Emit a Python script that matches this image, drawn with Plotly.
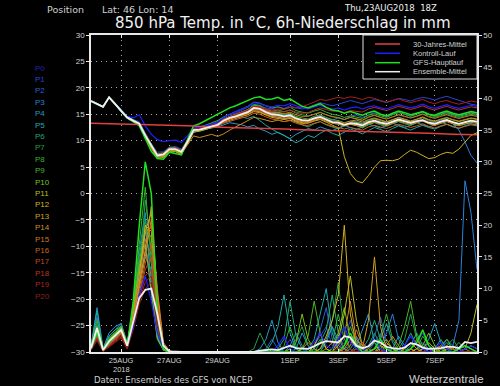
import pandas as pd
import plotly.graph_objects as go

times = pd.date_range("2018-08-23 18:00", periods=65, freq="6h")
clim_times = pd.date_range("2018-08-23 18:00", periods=17, freq="24h")

member_names = ["P%d" % k for k in range(21)]
member_colors = ["#2020b0", "#2a46d0", "#2a62d0", "#2a82d8", "#2298c8", "#20a8a8",
                 "#20a878", "#20a048", "#34b034", "#48b824", "#78c018", "#b8bc20",
                 "#d0b020", "#d0a020", "#d08c20", "#d07420", "#c86020", "#c04a20",
                 "#b83420", "#a82020", "#882018"]

clim_temp = [13.3, 13.2, 13.0, 12.9, 12.8, 12.6, 12.5, 12.3, 12.2, 12.0, 11.9, 11.8, 11.6, 11.5, 11.4, 11.2, 11.1]

mean_temp = [17.5,17.0,16.4,18.2,17.0, 15.6,14.4,13.8,13.2,11.0, 9.0,7.2,7.4,8.4,8.4,
             7.9,9.8,12.0,12.1,12.4, 12.8,13.0,13.8,14.3,14.6, 15.0,15.4,16.2,16.0,15.4,
             15.0,14.9,14.6,14.8,14.2, 13.9,13.8,14.2,14.5,14.0, 13.5,13.4,13.0,13.3,13.2,
             12.9,13.5,13.8,13.4,13.2, 13.6,14.0,13.7,13.4,13.7, 13.9,13.4,13.2,13.6,13.9,
             13.5,13.2,13.5,13.8,13.6]
gfs_temp = [17.5,17.0,16.4,18.2,17.0, 15.5,14.3,13.6,12.8,10.4, 8.0,6.6,6.5,7.8,7.6,
            7.3,10.2,12.8,13.2,13.8, 14.4,14.9,15.6,16.2,16.6, 17.1,17.5,18.1,18.3,17.8,
            17.9,18.2,17.6,17.9,17.2, 16.5,16.2,16.6,17.0,16.3, 15.8,15.6,15.2,15.5,15.1,
            14.8,15.3,15.6,15.0,14.7, 15.2,15.6,15.3,14.9,15.2, 15.5,15.0,14.8,15.3,15.6,
            15.2,14.9,15.2,15.5,15.3]

temp_p0 = [17.5,17.0,16.4,18.2,17.0, 15.7,14.6,14.3,14.9,12.8, 11.2,10.2,9.8,10.0,10.1,
           9.7,10.9,12.4,12.5,12.8, 13.2,13.5,14.4,15.0,15.5, 16.0,16.4,17.2,17.0,16.6,
           16.4,16.7,16.6,17.0,16.6, 16.2,16.0,16.4,16.7,16.2, 16.0,16.2,15.8,16.2,16.4,
           16.0,16.4,16.6,16.2,16.0, 16.4,16.8,16.5,16.2,16.5, 16.9,16.4,16.1,16.5,16.8,
           16.4,16.1,16.4,16.7,16.5]
temp_p1 = [17.6,17.1,16.5,18.2,17.1, 15.8,14.6,14.0,13.6,11.5, 9.4,7.8,7.9,8.8,8.9,
           8.4,10.2,12.3,12.6,12.9, 13.3,13.6,14.3,14.9,15.2, 15.8,16.3,16.9,16.6,16.2,
           16.0,16.4,16.1,16.6,16.2, 16.0,16.3,16.8,17.2,16.9, 16.6,16.9,17.2,17.6,17.3,
           17.0,17.4,17.8,17.5,17.2, 17.6,18.0,17.8,17.5,17.9, 18.2,18.0,17.7,18.1,18.4,
           18.0,17.6,17.2,16.9,16.7]
temp_p2 = [17.4,16.9,16.3,18.1,16.9, 15.4,14.2,13.5,12.9,10.4, 8.6,6.9,7.0,8.0,8.1,
           7.6,9.4,11.6,11.9,12.1, 12.6,12.9,13.4,14.0,14.4, 14.8,15.2,15.9,15.6,15.1,
           14.6,14.4,14.0,14.3,13.9, 13.6,13.8,14.4,14.8,14.2, 13.9,14.3,14.0,14.6,14.9,
           14.4,14.9,15.3,15.0,14.6, 15.0,15.4,15.0,14.7,15.2, 15.5,15.0,14.6,15.1,15.4,
           15.0,14.7,15.1,15.4,15.2]
temp_p3 = [17.5,17.0,16.4,18.3,17.0, 15.6,14.5,13.9,13.0,10.8, 8.8,7.0,7.2,8.2,8.3,
           7.8,9.7,11.8,12.0,12.3, 12.9,13.2,14.0,14.5,14.8, 15.2,15.6,16.3,16.1,15.5,
           15.2,15.0,14.8,15.0,14.4, 14.0,13.9,14.3,14.7,14.2, 13.8,13.6,13.1,13.4,13.6,
           13.3,13.9,14.2,13.8,13.5, 13.9,14.4,14.0,13.6,14.0, 14.3,13.7,13.4,13.9,14.1,
           13.2,12.0,9.8,7.2,5.8]
temp_p4 = [17.5,17.0,16.4,18.2,17.0, 15.5,14.3,13.6,13.1,10.9, 8.9,7.1,7.3,8.3,8.2,
           7.7,9.6,11.9,12.0,12.2, 12.5,12.6,13.0,13.4,13.2, 13.0,12.6,12.9,12.2,11.8,
           11.2,11.6,11.0,10.4,11.2, 11.8,12.3,12.0,12.6,12.2, 11.9,12.4,12.9,12.5,12.1,
           12.6,13.1,12.8,12.4,12.9, 13.3,12.9,12.5,12.9,13.4, 13.0,12.6,13.0,13.5,13.1,
           12.7,13.1,13.5,13.2,13.0]
temp_p5 = [17.5,17.0,16.5,18.2,17.0, 15.6,14.4,13.8,13.2,11.1, 9.1,7.3,7.5,8.5,8.5,
           8.0,9.9,12.1,12.2,12.5, 12.9,13.1,13.7,14.0,14.3, 14.5,14.2,14.6,13.8,12.9,
           12.2,11.5,11.0,10.3,9.6, 10.2,11.0,10.6,11.4,12.0, 11.4,11.0,11.6,12.2,11.8,
           11.3,11.9,12.5,12.1,11.7, 12.3,12.8,12.4,12.0,12.5, 12.9,12.5,12.2,12.7,13.1,
           12.6,12.3,12.8,13.2,12.9]
temp_p6 = [17.6,17.1,16.4,18.2,17.1, 15.7,14.5,13.9,13.3,11.2, 9.2,7.4,7.6,8.6,8.6,
           8.1,10.0,12.2,12.3,12.6, 13.0,13.3,14.0,14.6,15.0, 15.5,15.9,16.6,16.4,15.8,
           15.4,15.2,14.8,14.4,13.6, 13.0,12.6,13.2,13.6,13.0, 12.6,12.2,12.8,13.3,12.9,
           12.4,13.0,13.4,13.0,12.7, 13.2,13.6,13.2,12.9,13.4, 13.8,13.3,12.9,13.3,13.7,
           13.2,12.8,13.1,13.5,13.3]
temp_p7 = [17.4,16.9,16.3,18.1,16.9, 15.5,14.3,13.7,13.0,10.6, 8.5,6.8,6.9,7.9,8.0,
           7.5,9.5,11.7,11.8,12.2, 12.6,12.9,13.7,14.2,14.7, 15.3,15.8,16.8,16.7,16.0,
           15.6,15.8,15.5,15.8,15.2, 14.9,14.7,15.0,15.4,14.9, 14.6,14.3,14.0,14.4,14.1,
           13.8,14.4,14.8,14.4,14.1, 14.5,14.9,14.6,14.3,14.7, 15.1,14.6,14.4,14.8,15.1,
           14.7,14.4,14.7,15.0,14.8]
temp_p8 = [17.5,17.0,16.4,18.2,17.0, 15.6,14.4,13.8,13.2,10.9, 8.8,7.0,7.1,8.1,8.2,
           7.8,9.8,12.2,12.5,12.9, 13.4,13.8,14.5,15.0,15.5, 16.0,16.5,17.3,17.1,16.6,
           16.2,16.4,16.0,16.3,15.7, 15.4,15.2,15.6,15.9,15.4, 15.0,14.8,14.4,14.7,14.5,
           14.2,14.8,15.1,14.7,14.4, 14.9,15.3,15.0,14.6,15.0, 15.4,14.9,14.6,15.0,15.3,
           14.9,14.6,14.9,15.2,15.0]
temp_p9 = [17.5,17.0,16.4,18.2,17.0, 15.7,14.5,13.9,13.3,11.3, 9.3,7.5,7.7,8.7,8.7,
           8.2,10.1,12.3,12.4,12.7, 13.1,13.3,14.1,14.6,15.0, 15.4,15.9,16.7,16.5,15.9,
           15.5,15.3,15.0,15.2,14.6, 14.3,14.1,14.6,14.9,14.4, 14.0,13.8,13.4,13.7,13.5,
           13.2,13.8,14.1,13.7,13.5, 13.9,14.3,14.0,13.7,14.0, 14.4,13.9,13.6,14.0,14.3,
           13.9,13.6,13.9,14.2,14.0]
temp_p10 = [17.5,17.0,16.4,18.2,17.0, 15.6,14.4,13.8,13.1,10.7, 8.7,7.0,7.1,8.1,8.2,
            7.7,9.6,11.9,12.0,12.3, 12.7,12.9,13.6,14.0,14.4, 14.8,15.1,15.8,15.5,15.0,
            14.7,14.5,14.3,14.5,14.0, 13.7,13.6,14.0,14.3,13.8, 13.4,13.2,12.9,13.1,13.0,
            12.8,13.3,13.6,13.3,13.0, 13.4,13.8,13.5,13.2,13.5, 13.8,13.3,13.0,13.4,13.7,
            13.3,13.0,13.3,13.6,13.4]
temp_p11 = [17.5,17.0,16.4,18.2,17.0, 15.5,14.3,13.7,13.0,10.6, 8.5,6.6,6.8,7.8,7.9,
            7.4,9.4,11.6,11.8,12.1, 12.5,12.8,13.5,14.0,14.3, 14.7,15.0,15.7,15.5,15.0,
            14.6,14.5,14.2,14.4,13.9, 13.6,13.5,13.9,14.2,13.7, 13.3,13.1,12.8,13.1,12.9,
            12.6,13.2,13.5,13.2,12.9, 13.3,13.7,13.4,13.1,13.4, 13.7,13.2,12.9,13.3,13.6,
            13.2,12.9,13.2,13.5,13.3]
temp_p12 = [17.5,17.0,16.4,18.2,17.0, 15.6,14.4,13.8,13.2,10.9, 8.8,7.1,7.3,8.3,8.3,
            7.8,9.7,11.9,12.1,12.3, 12.7,12.9,13.5,13.9,14.2, 14.6,14.9,15.5,15.3,14.8,
            14.4,14.2,14.0,14.2,13.7, 13.4,13.3,13.7,14.0,13.5, 13.0,12.4,7.0,3.8,2.4,
            2.0,3.4,5.0,6.2,6.3, 6.2,6.5,7.4,8.2,7.8, 7.2,6.6,6.8,7.4,7.8,
            7.6,8.4,9.8,11.0,11.5]
temp_p13 = [17.5,17.0,16.4,18.2,17.0, 15.6,14.4,13.8,13.3,11.0, 9.0,7.2,7.4,8.4,8.4,
            7.9,9.8,12.0,12.2,12.4, 12.8,13.0,13.6,14.1,14.5, 14.9,15.3,16.0,15.8,15.3,
            14.9,14.8,14.5,14.7,14.1, 13.8,13.7,14.1,14.4,13.9, 13.5,13.3,13.0,13.3,13.1,
            12.8,13.4,13.7,13.4,13.1, 13.5,13.9,13.6,13.3,13.6, 13.9,13.4,13.1,13.5,13.8,
            13.4,13.1,13.4,13.7,13.5]
temp_p14 = [17.5,17.0,16.4,18.2,17.0, 15.6,14.4,13.8,13.1,10.8, 8.7,6.9,7.0,8.0,8.0,
            7.5,9.2,10.9,10.6,10.9, 11.2,10.8,11.3,12.0,12.6, 13.2,13.8,14.4,14.2,13.9,
            13.6,13.9,13.6,13.9,13.5, 13.2,13.4,13.9,14.2,13.8, 13.5,13.6,13.3,13.7,13.9,
            13.5,14.0,14.3,13.9,13.6, 14.0,14.4,14.1,13.7,14.1, 14.5,14.0,13.7,14.1,14.4,
            14.0,13.7,14.0,14.3,14.1]
temp_p15 = [17.5,17.0,16.4,18.2,17.0, 15.6,14.4,13.8,13.2,11.0, 8.9,7.2,7.3,8.3,8.4,
            7.9,9.9,12.1,12.3,12.6, 13.0,13.3,14.0,14.6,14.9, 15.3,15.7,16.4,16.2,15.7,
            15.3,15.4,15.1,15.4,14.9, 14.6,14.6,15.0,15.3,14.9, 14.5,14.4,14.0,14.4,14.2,
            13.9,14.5,14.8,14.4,14.1, 14.5,14.9,14.6,14.3,14.6, 15.0,14.5,14.2,14.6,14.9,
            14.5,14.2,14.5,14.8,14.6]
temp_p16 = [17.5,17.0,16.4,18.2,17.0, 15.6,14.4,13.8,13.2,11.1, 9.1,7.4,7.5,8.5,8.5,
            8.0,9.9,12.0,12.1,12.3, 12.6,12.8,13.3,13.7,14.0, 14.3,14.6,15.2,15.0,14.5,
            14.1,13.9,13.6,13.8,13.3, 13.0,12.9,13.3,13.6,13.1, 12.7,12.5,12.2,12.5,12.3,
            12.0,12.6,12.9,12.6,12.3, 12.7,13.1,12.8,12.5,12.8, 13.2,12.7,12.4,12.8,13.1,
            12.7,12.4,12.7,13.0,12.8]
temp_p17 = [17.5,17.0,16.4,18.2,17.0, 15.6,14.4,13.8,13.2,11.0, 9.0,7.2,7.4,8.4,8.4,
            7.9,9.8,11.9,12.0,12.3, 12.7,12.9,13.5,14.0,14.3, 14.7,15.1,15.8,15.6,15.1,
            14.7,14.6,14.3,14.5,14.0, 13.7,13.6,14.0,14.3,13.8, 13.4,13.2,12.9,13.2,13.0,
            12.7,13.3,13.6,13.3,13.0, 13.4,13.8,13.5,13.2,13.5, 13.8,13.3,13.0,13.4,13.7,
            13.3,13.0,13.3,13.6,13.4]
temp_p18 = [17.5,17.0,16.4,18.2,17.0, 15.6,14.4,13.9,13.3,11.2, 9.2,7.4,7.6,8.6,8.6,
            8.1,10.0,12.2,12.4,12.7, 13.1,13.4,14.1,14.6,15.0, 15.4,15.8,16.5,16.3,15.8,
            15.5,15.6,15.4,15.8,15.4, 15.2,15.3,15.8,16.2,15.9, 15.6,15.6,15.3,15.7,15.6,
            15.4,16.0,16.3,16.0,15.7, 16.1,16.5,16.2,15.9,16.2, 16.6,16.1,15.8,16.2,16.5,
            16.1,15.8,16.1,16.4,16.2]
temp_p19 = [17.5,17.0,16.4,18.2,17.0, 15.6,14.4,13.8,13.2,11.0, 9.0,7.2,7.4,8.4,8.4,
            7.9,9.8,12.0,12.2,12.5, 12.9,13.2,13.9,14.5,14.9, 15.3,15.8,16.5,16.4,16.0,
            15.8,16.0,15.9,16.3,16.2, 16.4,16.8,17.3,17.8,17.6, 17.9,18.2,18.0,18.3,18.1,
            17.8,18.2,18.0,17.6,17.3, 17.6,17.9,17.5,17.2,17.5, 17.8,17.3,17.0,17.4,17.6,
            17.2,16.9,17.2,17.5,17.3]
temp_p20 = [17.5,17.0,16.4,18.2,17.0, 15.6,14.4,13.8,13.2,11.0, 9.1,7.3,7.4,8.4,8.5,
            8.0,9.9,12.1,12.3,12.5, 12.9,13.1,13.8,14.3,14.6, 15.0,15.4,16.1,15.9,15.4,
            15.0,14.9,14.6,14.8,14.3, 14.0,13.9,14.3,14.6,14.1, 13.7,13.5,13.2,13.5,13.3,
            13.0,13.6,13.9,13.6,13.3, 13.7,14.1,13.8,13.5,13.8, 14.1,13.6,13.3,13.7,14.0,
            13.6,13.3,13.6,13.9,13.7]

mean_prec = [0.6,3.8,0.3,1.7,2.6, 3.5,1.0,5.0,8.5,9.8, 10.0,6.0,1.0,0.1,0,
             0,0,0,0,0, 0,0,0,0,0, 0,0,0,0.2,0.3,
             0.4,0.3,0.7,1.0,0.6, 0.5,0.5,0.9,1.4,1.7, 1.6,1.5,2.5,2.3,1.0,
             0.6,0.9,1.8,1.5,0.8, 0.6,0.5,0.7,1.4,1.2, 0.7,0.5,0.5,0.6,0.8,
             0.8,0.6,1.6,1.4,1.6]
gfs_prec = [0.5,3.0,0.3,1.5,2.5, 3.5,1.0,8.0,20.0,30.0, 25.0,6.0,0.5,0,0,
            0,0,0,0,0, 0,0,0,0,0, 0,0,0,0,0,
            0,0,0,0,0, 0,0,0,0,0, 0,0,1.0,3.0,1.0,
            0,0,0.5,2.0,0.5, 0,0,0,0.5,1.5, 3.5,1.0,0,0,0,
            0,0.5,1.0,0.5,0]

prec_p0 = [0.5,3.0,0.4,1.5,2.5, 3.5,1.0,4.0,9.0,12.0, 8.0,3.0,0.5,0,0,
           0,0,0,0,0, 0,0,0,0,0, 0,0,0,0,0,
           0,1.0,2.5,0.5,0, 0,0.5,1.5,3.0,1.0, 0.5,2.0,4.0,1.5,0.5,
           0,1.0,2.0,0.5,0, 0,0,1.0,2.5,1.0, 0.5,0,0.5,1.5,0.5,
           0,0,0.5,1.0,0.5]
prec_p1 = [0.8,4.5,0.3,2.0,3.0, 4.0,1.5,6.0,14.0,18.0, 9.0,2.0,0.3,0,0,
           0,0,0,0,0, 0,0,0,0,0, 0,0,0,0,0,
           0,0,0.5,2.0,0.5, 0,0,1.0,2.5,4.0, 1.0,0.5,2.0,5.0,1.5,
           0.5,0,1.5,3.0,1.0, 0,0,0,0.5,1.5, 3.0,1.0,0,0,0.5,
           1.0,0.5,0,0,0]
prec_p2 = [0.4,2.5,0.2,1.2,2.0, 3.0,0.8,5.0,11.0,16.0, 12.0,4.0,0.6,0,0,
           0,0,0,0,0, 0,0,0,0,0, 0,0,0,0,0.5,
           2.0,0.5,0,0,0, 0,0,0.5,3.5,7.0, 2.0,0.5,1.0,3.0,0.5,
           0,0.5,2.5,5.5,1.5, 0.5,0,0,0,0.5, 1.5,0.5,0,0.5,2.0,
           1.0,0,0,0,0]
prec_p3 = [1.0,5.5,0.5,2.5,3.5, 4.5,1.2,7.0,16.0,22.0, 10.0,2.5,0.4,0,0,
           0,0,0,0,0, 0,0,0,0,0, 0,0,0,0,0,
           0,0,0,1.0,3.0, 1.0,0,0,0.5,2.0, 4.0,1.0,0.5,1.0,2.5,
           0.5,0,0,1.0,3.0, 6.0,2.0,0.5,0,0, 0,0.5,1.0,0.5,0,
           1.0,5.0,27.0,22.0,13.0]
prec_p4 = [0.9,7.0,0.6,3.0,4.0, 4.5,1.5,5.5,12.0,15.0, 13.0,5.0,0.8,0,0,
           0,0,0,0,0, 0,0,0,0,0, 0,0,0,0.5,2.0,
           5.0,1.5,0,0,0.5, 3.0,1.0,0,0,1.5, 4.0,2.0,0.5,0,1.0,
           3.5,6.0,1.5,0,0, 0.5,2.5,1.0,0,0, 0.5,2.0,4.5,1.5,0,
           0,0.5,1.0,0.5,0]
prec_p5 = [0.7,6.5,0.4,2.5,3.5, 4.0,1.2,6.5,13.0,19.0, 14.0,3.5,0.5,0,0,
           0,0,0,0,0, 0,0,0,0,0, 0,0,0,0,0,
           1.5,4.0,9.0,3.0,0.5, 0,0.5,2.0,6.0,10.0, 3.0,0.5,0,0.5,2.0,
           1.0,0,0.5,2.0,4.5, 1.5,0,0,1.0,3.0, 1.0,0,0,0.5,1.5,
           0.5,0,0,0,0]
prec_p6 = [0.6,4.0,0.3,1.8,2.8, 3.8,1.0,6.0,15.0,21.0, 11.0,2.0,0.3,0,0,
           0,0,0,0,0, 0,0,0,0,0, 0,0,0,0,0,
           0,0.5,2.0,8.0,2.5, 0.5,0,0,1.5,3.5, 9.0,3.0,0.5,0,0,
           0.5,2.0,5.0,2.0,0.5, 0,0,1.0,3.0,1.0, 0,0,0.5,2.0,0.5,
           0,0,0.5,1.0,0.5]
prec_p7 = [0.5,3.5,0.3,1.5,2.5, 3.5,1.0,5.5,12.0,24.0, 16.0,4.0,0.5,0,0,
           0,0,0,0,0, 0,0,0,0,0, 0,0,0.5,3.0,1.0,
           0,0,0,0.5,2.0, 4.0,1.0,0,0,2.0, 5.0,11.0,3.0,0.5,0,
           0,1.0,3.0,1.0,0, 0,0.5,2.0,6.0,2.0, 0.5,0,0,0,1.0,
           2.0,0.5,0,0,0]
prec_p8 = [0.8,5.0,0.5,2.2,3.2, 4.2,1.4,7.0,17.0,26.0, 14.0,3.0,0.4,0,0,
           0,0,0,0,0, 0,0,0,0,0, 0,0,0,0,0,
           0,0,1.0,4.0,1.0, 0,0,0.5,2.0,0.5, 1.5,6.0,2.0,0.5,0,
           0,0,0.5,2.5,6.0, 2.0,0.5,0,0,0.5, 2.5,1.0,0,0,0,
           0.5,1.5,0.5,0,0]
prec_p9 = [0.6,4.2,0.4,2.0,3.0, 4.0,1.1,6.2,14.0,20.0, 18.0,6.0,1.0,0,0,
           0,0,0,0,0, 0,0,0,0,0, 0,0,0,0,0,
           0,0,0,0,0, 0.5,2.5,8.0,3.0,0.5, 0,0,1.0,4.0,1.5,
           0,0.5,1.5,0.5,0, 0,1.0,4.0,8.0,2.5, 0.5,0,0,1.0,2.0,
           0.5,0,0,0,0]
prec_p10 = [0.7,3.8,0.3,1.9,2.9, 3.9,1.3,6.8,13.5,17.0, 9.5,2.2,0.3,0,0,
            0,0,0,0,0, 0,0,0,0,0, 0,0,0,0,0,
            0,0,0,0.5,1.5, 6.0,2.0,0.5,0,0, 0.5,3.0,7.0,2.0,0.5,
            0,0,0,1.0,2.0, 0.5,0,0,0,0.5, 1.0,3.0,1.0,0,0,
            0,0,0.5,1.0,0.5]
prec_p11 = [0.5,3.2,0.2,1.6,2.4, 3.3,0.9,5.2,11.0,19.0, 22.0,8.0,1.0,0,0,
            0,0,0,0,0, 0,0,0,0,0, 0,0,0,0,0,
            0,0,0,0,0, 0,0,1.0,3.0,0.5, 0,2.0,6.0,12.0,5.0,
            1.0,0,0,0.5,1.5, 0.5,0,0,0,0, 0.5,1.5,0.5,0,0,
            0,0,0.5,3.0,7.5]
prec_p12 = [0.6,3.6,0.3,1.7,2.7, 3.7,1.1,5.8,12.0,20.0, 19.0,7.0,0.8,0,0,
            0,0,0,0,0, 0,0,0,0,0, 0,0,0,0,0,
            0,0,0,0,0, 0,0,0,0.5,2.5, 5.0,9.0,20.0,6.0,1.0,
            0,0,0.5,1.0,0.5, 0,0,0,0.5,0, 0,0,0,0.5,1.0,
            0.5,0,0,0,0]
prec_p13 = [0.5,3.0,0.2,1.4,2.3, 3.2,0.9,5.0,10.5,16.0, 23.0,9.0,1.2,0,0,
            0,0,0,0,0, 0,0,0,0,0, 0,0,0,0,0,
            0,0,0,0,0, 0,0,0,0,0, 0,0,0.5,2.0,1.0,
            0.5,5.0,15.0,4.0,0.5, 0,0,0.5,1.5,0.5, 0,0,0,0,0.5,
            0.5,0,0,0,0]
prec_p14 = [0.4,2.8,0.2,1.3,2.2, 3.0,0.8,4.8,10.0,15.0, 21.0,10.0,1.5,0.2,0,
            0,0,0,0,0, 0,0,0,0,0, 0,0,0,0,0,
            0,0,0,0,0, 0.5,1.5,0.5,0,0, 0,1.0,2.5,8.0,2.0,
            0.5,0,0,0,1.0, 2.5,1.0,0,0,0, 0,0,0.5,1.0,0,
            0,0,0,0,0]
prec_p15 = [0.5,3.0,0.3,1.5,2.4, 3.4,1.0,5.4,11.5,17.5, 20.0,8.5,1.0,0,0,
            0,0,0,0,0, 0,0,0,0,0, 0,0,0,0,0,
            0,0,0,0,0, 0,0,0,0,0.5, 1.5,0.5,0,1.0,3.5,
            1.0,0,0,0,0, 0,0,0,0.5,2.0, 0.5,0,0,0,0,
            0,0,0,0,0]
prec_p16 = [0.4,2.6,0.2,1.2,2.1, 2.9,0.8,4.5,9.5,14.0, 17.0,7.5,1.0,0,0,
            0,0,0,0,0, 0,0,0,0,0, 0,0,0,0,0,
            0,0,0,0,0, 0,0,0,0,0, 0,0,0,0,0.5,
            1.5,0.5,0,0,0, 0,0,0,0,0, 0,0,0,0,0,
            0,0,0,0,0]
prec_p17 = [0.4,2.4,0.2,1.1,2.0, 2.8,0.7,4.2,9.0,13.0, 15.0,6.0,0.8,0,0,
            0,0,0,0,0, 0,0,0,0,0, 0,0,0,0,0,
            0,0,0,0,0, 0,0,0,0,0, 0,0,0,0,0,
            0,0,0,0,0, 0,0,0,0,0, 0,0,0,0.5,1.0,
            0.5,0,0,0,0]
prec_p18 = [0.3,2.2,0.1,1.0,1.8, 2.6,0.6,4.0,8.5,12.0, 13.0,5.0,0.6,0,0,
            0,0,0,0,0, 0,0,0,0,0, 0,0,0,0,0,
            0,0,0,0,0, 0,0,0,0,0, 0,0,0,0,0,
            0,0,0,0,0, 0,0,0,0,0, 0,0,0,0,0,
            0,0,0,0,0]
prec_p19 = [0.3,2.0,0.1,0.9,1.6, 2.4,0.5,3.8,8.0,11.0, 12.0,4.5,0.5,0,0,
            0,0,0,0,0, 0,0,0,0,0, 0,0,0,0,0,
            0,0,0,0,0, 0,0,0,0,0, 0,0,0,0,0,
            0,0,0,0,0, 0,0,0,0,0, 0,0,0,0,0,
            0,0,0,0,0]
prec_p20 = [0.3,1.8,0.1,0.8,1.5, 2.2,0.5,3.5,7.5,10.0, 11.0,4.0,0.5,0,0,
            0,0,0,0,0, 0,0,0,0,0, 0,0,0,0,0,
            0,0,0,0,0, 0,0,0,0,0, 0,0.5,1.5,0.5,0,
            0,0,0,0,0, 0,0,0,0,0, 0,0,0,0,0,
            0,0,0,0,0]

member_temp = [temp_p0, temp_p1, temp_p2, temp_p3, temp_p4, temp_p5, temp_p6, temp_p7,
               temp_p8, temp_p9, temp_p10, temp_p11, temp_p12, temp_p13, temp_p14,
               temp_p15, temp_p16, temp_p17, temp_p18, temp_p19, temp_p20]
member_prec = [prec_p0, prec_p1, prec_p2, prec_p3, prec_p4, prec_p5, prec_p6, prec_p7,
               prec_p8, prec_p9, prec_p10, prec_p11, prec_p12, prec_p13, prec_p14,
               prec_p15, prec_p16, prec_p17, prec_p18, prec_p19, prec_p20]

tick_dates = ["2018-08-25", "2018-08-27", "2018-08-29", "2018-09-01", "2018-09-03", "2018-09-05", "2018-09-07"]
tick_labels = ["25AUG", "27AUG", "29AUG", "1SEP", "3SEP", "5SEP", "7SEP"]
year_label = "2018"

legend_labels = ["30-Jahres-Mittel", "Kontroll-Lauf", "GFS-Hauptlauf", "Ensemble-Mittel"]
legend_colors = ["#e04040", "#2020ff", "#20e020", "#f0f0f0"]

TXT = "#d0d0d0"
FONT = "Liberation Sans"
DV = "DejaVu Sans"

fig = go.Figure()

# precipitation (right axis)
for k in range(1, 21):
    vals = member_prec[k]
    fig.add_trace(go.Scatter(x=times[:len(vals)], y=vals, yaxis="y2", mode="lines",
                             line=dict(color=member_colors[k], width=1), showlegend=False, hoverinfo="skip"))
# temperature members
for k in range(1, 21):
    vals = member_temp[k]
    fig.add_trace(go.Scatter(x=times[:len(vals)], y=vals, mode="lines",
                             line=dict(color=member_colors[k], width=1), showlegend=False, hoverinfo="skip"))
# control (P0)
fig.add_trace(go.Scatter(x=times[:len(prec_p0)], y=prec_p0, yaxis="y2", mode="lines",
                         line=dict(color=legend_colors[1], width=1.2), showlegend=False))
fig.add_trace(go.Scatter(x=times[:len(temp_p0)], y=temp_p0, mode="lines",
                         line=dict(color=legend_colors[1], width=1.2), showlegend=False))
# GFS main run
fig.add_trace(go.Scatter(x=times[:len(gfs_prec)], y=gfs_prec, yaxis="y2", mode="lines",
                         line=dict(color=legend_colors[2], width=1.5), showlegend=False))
fig.add_trace(go.Scatter(x=times[:len(gfs_temp)], y=gfs_temp, mode="lines",
                         line=dict(color=legend_colors[2], width=1.5), showlegend=False))
# climatology
fig.add_trace(go.Scatter(x=clim_times, y=clim_temp, mode="lines",
                         line=dict(color=legend_colors[0], width=1.5), showlegend=False))
# ensemble mean
fig.add_trace(go.Scatter(x=times[:len(mean_prec)], y=mean_prec, yaxis="y2", mode="lines",
                         line=dict(color=legend_colors[3], width=1.8), showlegend=False))
fig.add_trace(go.Scatter(x=times[:len(mean_temp)], y=mean_temp, mode="lines",
                         line=dict(color=legend_colors[3], width=1.8), showlegend=False))

L, R, T, B = 91, 477, 35, 352
W, H = 500, 386
pw, ph = R - L, B - T

def px(xp):
    return (xp - L) / pw

def py(yp):
    return (B - yp) / ph

ann = []
ann.append(dict(text="Position", x=px(45), y=py(9), xref="paper", yref="paper",
                xanchor="left", yanchor="middle", showarrow=False, font=dict(family=DV, size=9.5, color=TXT)))
ann.append(dict(text="Lat: 46 Lon: 14", x=px(100), y=py(9), xref="paper", yref="paper",
                xanchor="left", yanchor="middle", showarrow=False, font=dict(family=DV, size=9.5, color=TXT)))
ann.append(dict(text="850 hPa Temp. in °C, 6h-Niederschlag in mm", x=px(283), y=py(22.5), xref="paper", yref="paper",
                xanchor="center", yanchor="middle", showarrow=False, font=dict(family=DV, size=15, color="#f0f0f0")))
ann.append(dict(text="Thu,23AUG2018  18Z", x=px(342), y=py(8), xref="paper", yref="paper",
                xanchor="left", yanchor="middle", showarrow=False, font=dict(family=DV, size=8.5, color="#f0f0f0")))
ann.append(dict(text="Daten: Ensembles des GFS von NCEP", x=px(92), y=py(380), xref="paper", yref="paper",
                xanchor="left", yanchor="middle", showarrow=False, font=dict(family=DV, size=8.5, color=TXT)))
ann.append(dict(text="Wetterzentrale", x=px(486), y=py(379), xref="paper", yref="paper",
                xanchor="right", yanchor="middle", showarrow=False, font=dict(family=FONT, size=11.5, color=TXT)))
ann.append(dict(text=year_label, x=tick_dates[0], y=py(369), xref="x", yref="paper",
                xanchor="center", yanchor="middle", showarrow=False, font=dict(family=FONT, size=7.5, color=TXT)))
for k, name in enumerate(member_names):
    ann.append(dict(text=name, x=px(33), y=py(68 + k * 11.4), xref="paper", yref="paper",
                    xanchor="left", yanchor="middle", showarrow=False,
                    font=dict(family=FONT, size=8, color=member_colors[k])))

shapes = [dict(type="rect", xref="paper", yref="paper", x0=px(363), x1=1, y0=py(79), y1=1,
               line=dict(color="#e0e0e0", width=1), fillcolor="black", layer="above")]
rows = [44, 53.3, 62.7, 71.7]
for lab, col, r in zip(legend_labels, legend_colors, rows):
    shapes.append(dict(type="line", xref="paper", yref="paper", x0=px(375), x1=px(400), y0=py(r), y1=py(r),
                       line=dict(color=col, width=1.5), layer="above"))
    ann.append(dict(text=lab, x=px(411), y=py(r), xref="paper", yref="paper", xanchor="left", yanchor="middle",
                    showarrow=False, font=dict(family=FONT, size=7.5, color=TXT)))

axis_font = dict(family=FONT, size=8, color=TXT)
xaxis_font = dict(family=FONT, size=7.5, color=TXT)
GRID = "#a8a8a8"
fig.update_layout(
    width=W, height=H, margin=dict(l=L, r=W - R, t=T, b=H - B, pad=0, autoexpand=False),
    paper_bgcolor="black", plot_bgcolor="black", showlegend=False,
    xaxis=dict(type="date", range=[times[0], times[-1]], tickvals=tick_dates, ticktext=tick_labels,
               showgrid=True, gridcolor=GRID, griddash="1px,4px", gridwidth=1,
               showline=True, linecolor="#e8e8e8", linewidth=1.5, mirror="ticks",
               ticks="inside", ticklen=3, tickcolor="#e8e8e8", tickfont=xaxis_font, zeroline=False,
               automargin=False),
    yaxis=dict(range=[-30, 30], dtick=5, tick0=0, showgrid=True, gridcolor=GRID, griddash="1px,4px",
               gridwidth=1, showline=True, linecolor="#e8e8e8", linewidth=1.5, ticks="outside", ticklen=3,
               tickcolor="#e8e8e8", tickfont=axis_font, zeroline=False, automargin=False),
    yaxis2=dict(range=[0, 50], dtick=5, overlaying="y", side="right", showgrid=False, showline=True,
                linecolor="#e8e8e8", linewidth=1.5, ticks="outside", ticklen=3, tickcolor="#e8e8e8",
                tickfont=axis_font, zeroline=False, automargin=False),
    annotations=ann, shapes=shapes,
)

fig.write_html("out.html", config={"displayModeBar": False},
               post_script="document.body.style.margin='0px';")
